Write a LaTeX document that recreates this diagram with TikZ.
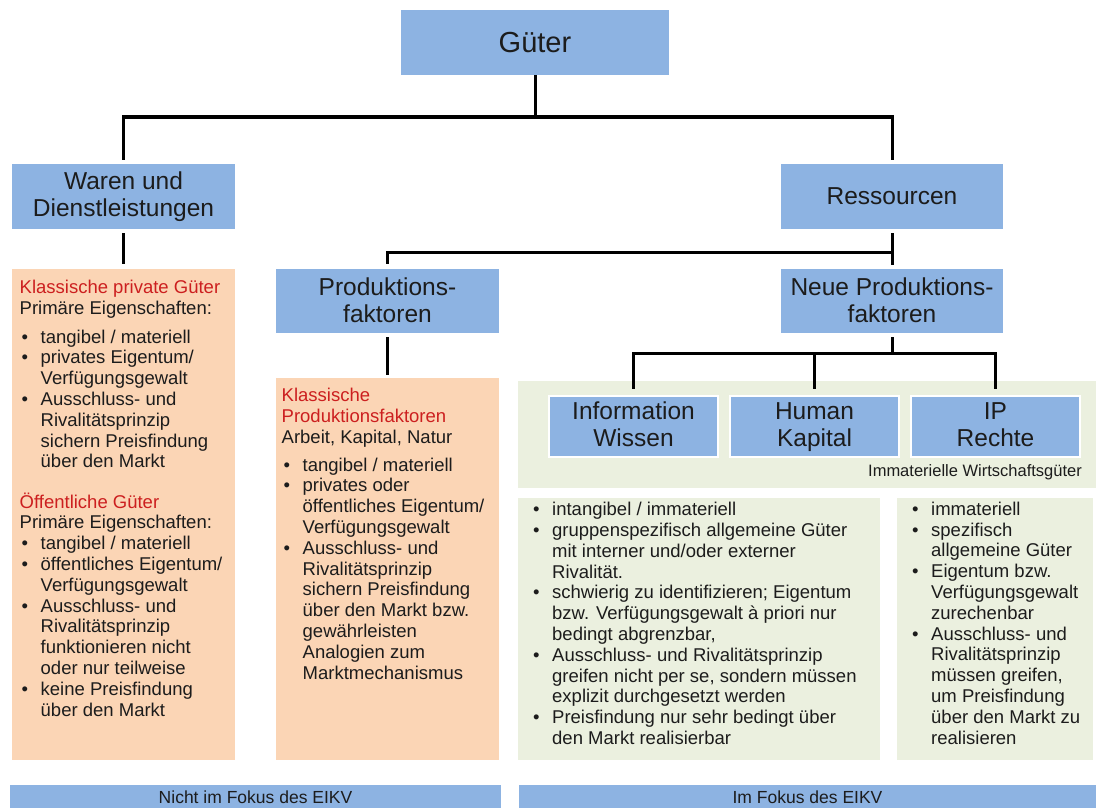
\documentclass[tikz,border=0pt]{standalone}
\usepackage{fontspec}
\setmainfont{Liberation Sans}
\definecolor{boxblue}{HTML}{8DB3E2}
\definecolor{boxorange}{HTML}{FBD5B5}
\definecolor{boxgreen}{HTML}{EBF0DF}
\definecolor{headred}{HTML}{CC1F1F}
\definecolor{txt}{HTML}{1C1C1C}

% bullet line, continuation line, and a strut fixing the first baseline
\newcommand\bitem{\hspace*{2pt}\makebox[19pt][l]{\textbullet}}
\newcommand\bcont{\hspace*{21pt}}
\newcommand\topstrut{\rule{0pt}{16pt}}
% struts giving every two-line heading the same height and depth
\newcommand\hdtop{\rule{0pt}{18pt}}
\newcommand\hdlow{\rule{0pt}{22pt}}
\newcommand\hdbot{\rule[-6pt]{0pt}{6pt}}

\begin{document}
\begin{tikzpicture}[x=1pt,y=-1pt,
  bluebox/.style={fill=boxblue, inner sep=0pt, align=center, text=txt,
    font=\fontsize{24.5}{27}\selectfont},
  smallblue/.style={bluebox, draw=white, line width=2.5pt,
    minimum width=169pt, minimum height=61pt},
  orangebox/.style={fill=boxorange, inner sep=0pt},
  greenbox/.style={fill=boxgreen, inner sep=0pt},
  bodytext/.style={anchor=north west, inner sep=0pt, align=left, text=txt,
    font=\fontsize{18.5}{20.8}\selectfont},
  barbox/.style={fill=boxblue, inner sep=0pt, text=txt,
    font=\fontsize{17.5}{20}\selectfont, minimum height=24pt},
  conn/.style={line width=3pt, black}
]
\useasboundingbox (0,0) rectangle (1096,808);

% ---------- background panels ----------
\node[orangebox, minimum width=223pt, minimum height=491pt] (pg) at (123.5,514.5) {};
\node[orangebox, minimum width=223pt, minimum height=382pt] (pm) at (387.5,569) {};
\node[greenbox, minimum width=578pt, minimum height=107pt] (immat) at (807,434.5) {};
\node[greenbox, minimum width=362pt, minimum height=262pt] (gl) at (699,629) {};
\node[greenbox, minimum width=196pt, minimum height=262pt] (gr) at (995,629) {};

% ---------- hierarchy boxes ----------
\node[bluebox, minimum width=268pt, minimum height=65pt,
      font=\fontsize{29}{32}\selectfont] (guter) at (535,42.5) {Güter};
\node[bluebox, minimum width=223pt, minimum height=65pt] (waren) at (123.5,196.5)
  {\hdtop Waren und\\Dienstleistungen\hdbot};
\node[bluebox, minimum width=222pt, minimum height=65pt] (res) at (892,196.5)
  {Ressourcen};
\node[bluebox, minimum width=223pt, minimum height=64pt] (prod) at (387.5,301)
  {\hdlow Produktions-\\faktoren\hdbot};
\node[bluebox, minimum width=222pt, minimum height=64pt] (neue) at (892,301)
  {\hdlow Neue Produktions-\\faktoren\hdbot};
\node[smallblue] (info) at (633.5,426.5) {\hdtop Information\\Wissen\hdbot};
\node[smallblue] (human) at (814.5,426.5) {\hdtop Human\\Kapital\hdbot};
\node[smallblue] (ip) at (995.5,426.5) {\hdtop IP\\Rechte\hdbot};
\node[anchor=base east, inner sep=0pt, text=txt,
      font=\fontsize{16.5}{19}\selectfont] (immatlabel) at (1082,476)
  {Immaterielle Wirtschaftsgüter};

% ---------- connectors ----------
\coordinate (j0) at (535,117);
\coordinate (j1) at (892,252);
\coordinate (j2) at (892,353);
\draw[conn] (guter.south) -- (j0);
\draw[conn] ([yshift=4pt]waren.north) |- (j0) -| ([yshift=4pt]res.north);
\draw[conn] ([yshift=-4pt]waren.south) -- ([yshift=5pt]pg.north);
\draw[conn] ([yshift=-4pt]res.south) -- ([yshift=4pt]neue.north);
\draw[conn] (j1) -| ([yshift=5pt]prod.north);
\draw[conn] ([yshift=-4pt]prod.south) -- ([yshift=3pt]pm.north);
\draw[conn] ([yshift=-4pt]neue.south) -- (j2);
\draw[conn] ([yshift=6pt]info.north) |- (j2) -| ([yshift=6pt]ip.north);
\draw[conn] ([yshift=6pt]human.north) -- (human.north |- j2);

% ---------- panel texts ----------
\node[bodytext] (pgtext) at (19.5,277.5) {\topstrut{\color{headred}Klassische private Güter}\\
Primäre Eigenschaften:\\[7.7pt]
\bitem tangibel / materiell\\
\bitem privates Eigentum/\\
\bcont Verfügungsgewalt\\
\bitem Ausschluss- und\\
\bcont Rivalitätsprinzip\\
\bcont sichern Preisfindung\\
\bcont über den Markt\\[19.4pt]
{\color{headred}Öffentliche Güter}\\
Primäre Eigenschaften:\\
\bitem tangibel / materiell\\
\bitem öffentliches Eigentum/\\
\bcont Verfügungsgewalt\\
\bitem Ausschluss- und\\
\bcont Rivalitätsprinzip\\
\bcont funktionieren nicht\\
\bcont oder nur teilweise\\
\bitem keine Preisfindung\\
\bcont über den Markt};

\node[bodytext] (pmtext) at (281.5,385.7) {\topstrut{\color{headred}Klassische}\\
{\color{headred}Produktionsfaktoren}\\
Arbeit, Kapital, Natur\\[6.8pt]
\bitem tangibel / materiell\\
\bitem privates oder\\
\bcont öffentliches Eigentum/\\
\bcont Verfügungsgewalt\\
\bitem Ausschluss- und\\
\bcont Rivalitätsprinzip\\
\bcont sichern Preisfindung\\
\bcont über den Markt bzw.\\
\bcont gewährleisten\\
\bcont Analogien zum\\
\bcont Marktmechanismus};

\node[bodytext] (gltext) at (531,499.5) {\topstrut\bitem intangibel / immateriell\\
\bitem gruppenspezifisch allgemeine Güter\\
\bcont mit interner und/oder externer\\
\bcont Rivalität.\\
\bitem schwierig zu identifizieren; Eigentum\\
\bcont bzw. Verfügungsgewalt à priori nur\\
\bcont bedingt abgrenzbar,\\
\bitem Ausschluss- und Rivalitätsprinzip\\
\bcont greifen nicht per se, sondern müssen\\
\bcont explizit durchgesetzt werden\\
\bitem Preisfindung nur sehr bedingt über\\
\bcont den Markt realisierbar};

\node[bodytext] (grtext) at (910,499) {\topstrut\bitem immateriell\\
\bitem spezifisch\\
\bcont allgemeine Güter\\
\bitem Eigentum bzw.\\
\bcont Verfügungsgewalt\\
\bcont zurechenbar\\
\bitem Ausschluss- und\\
\bcont Rivalitätsprinzip\\
\bcont müssen greifen,\\
\bcont um Preisfindung\\
\bcont über den Markt zu\\
\bcont realisieren};

% ---------- bottom bars ----------
\node[barbox, minimum width=491pt] (nofocus) at (255.5,797) {Nicht im Fokus des EIKV};
\node[barbox, minimum width=577pt] (focus) at (807.5,797) {Im Fokus des EIKV};
\end{tikzpicture}
\end{document}
